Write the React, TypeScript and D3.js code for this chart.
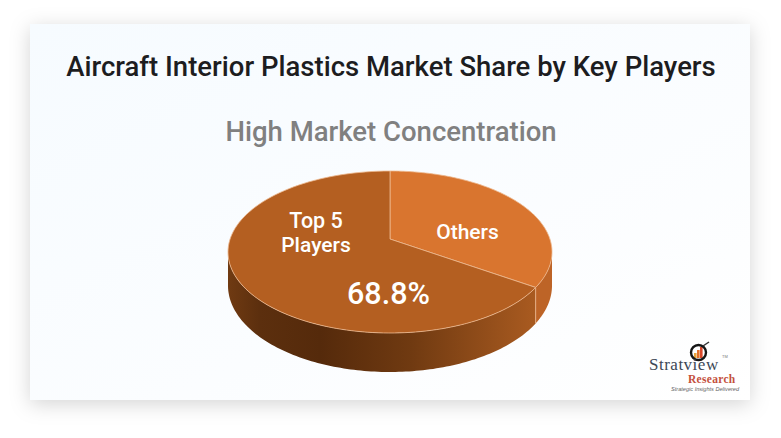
import React from "react";
import * as d3 from "d3";

const title = "Aircraft Interior Plastics Market Share by Key Players";
const subtitle = "High Market Concentration";
const categories = ["Others", "Top 5 Players"];
const shares = [31.2, 68.8];
const shareLabel = "68.8%";
const sliceColors = ["#d9752f", "#b45f21"];
const wallColors = ["#bd6427", "url(#wall)"];

const W = 781, H = 438;
const cx = 390, apexY = 239, backY = 171, frontY = 333, halfW = 162, depth = 39;
const k = (frontY - apexY - (apexY - backY)) / (frontY - backY);
const A = (frontY - apexY) * (1 - k);
const B = halfW * Math.sqrt(1 - k * k);
const warp = 0.22;

// angle clockwise from the back of the disc, projected in perspective
function project(a: number): [number, number] {
  const t = a + warp * Math.sin(a);
  const u = Math.sin(t), v = -Math.cos(t);
  const d = 1 - k * v;
  return [cx + (B * u) / d, apexY + (A * v) / d];
}

const arcs = d3.pie<number>().sort(null)(shares);
const line = d3.line();
const samples = (a0: number, a1: number) =>
  d3.range(0, 121).map((i) => a0 + ((a1 - a0) * i) / 120);

function topPath(a0: number, a1: number) {
  return line([[cx, apexY], ...samples(a0, a1).map(project)]) + "Z";
}
// wall height shrinks toward the far sides of the disc
function lowered([x, y]: [number, number]): [number, number] {
  const f = (y - backY) / (frontY - backY);
  return [x, y + depth * (0.72 + 0.28 * f)];
}
function wallPath(a0: number, a1: number) {
  const s = samples(a0, a1).map(project);
  return line([...s, ...s.map(lowered).reverse()]) + "Z";
}
// widest points of the outline bound the visible wall
const allAngles = samples(0, 2 * Math.PI);
const rightA = allAngles[d3.greatestIndex(allAngles, (a) => project(a)[0])];
const leftA = allAngles[d3.leastIndex(allAngles, (a) => project(a)[0])];
const splitA = arcs[0].endAngle;

const barHeights = [5, 8, 11];
const barColors = ["#e8a33c", "#e3702a", "#d9482a"];

export default function App() {
  const top = project(splitA);
  const bottom = lowered(top);
  return (
    <svg width={W} height={H} style={{ position: "absolute", left: 0, top: 0, background: "#fff" }}>
      <defs>
        <linearGradient id="card" x1="0" y1="0" x2="1" y2="1">
          <stop offset="0" stopColor="#f6fbff" />
          <stop offset="0.6" stopColor="#fbfdff" />
          <stop offset="1" stopColor="#ffffff" />
        </linearGradient>
        <linearGradient id="wall" gradientUnits="userSpaceOnUse" x1="229" x2="533" y1="0" y2="0">
          <stop offset="0" stopColor="#6f3a12" />
          <stop offset="0.1" stopColor="#5c2f0e" />
          <stop offset="0.3" stopColor="#552a0b" />
          <stop offset="0.6" stopColor="#703a11" />
          <stop offset="1" stopColor="#a85a20" />
        </linearGradient>
        <filter id="sh" x="-10%" y="-10%" width="120%" height="125%">
          <feDropShadow dx="0" dy="4" stdDeviation="10" floodColor="#000" floodOpacity="0.17" />
        </filter>
      </defs>
      <rect x={30} y={24} width={720} height={376} fill="url(#card)" filter="url(#sh)" />
      <text x={391} y={76} textAnchor="middle" fontFamily="Roboto" fontWeight={500} fontSize={27.5} fill="#1d1d1f">{title}</text>
      <text x={391} y={141} textAnchor="middle" fontFamily="Roboto" fontWeight={500} fontSize={27.5} fill="#808080">{subtitle}</text>

      <path d={wallPath(leftA, splitA)} fill={wallColors[1]} />
      <path d={wallPath(splitA, rightA)} fill={wallColors[0]} />
      <line x1={top[0]} y1={top[1]} x2={bottom[0]} y2={bottom[1]} stroke="#eeb98f" strokeWidth={0.8} />
      {arcs.map((d, i) => (
        <path key={categories[i]} d={topPath(d.startAngle, d.endAngle)} fill={sliceColors[i]} stroke="#eeb98f" strokeWidth={0.8} strokeLinejoin="round" />
      ))}

      <g fontFamily="Roboto" fontWeight={500} fill="#fff" textAnchor="middle">
        <text x={316} y={228} fontSize={21.5}>Top 5</text>
        <text x={316} y={252} fontSize={21}>Players</text>
        <text x={467.5} y={239} fontSize={21}>{categories[0]}</text>
        <text x={388.5} y={304} fontSize={30.5}>{shareLabel}</text>
      </g>

      <g>
        {barHeights.map((h, i) => (
          <rect key={i} x={694 + i * 3} y={358 - h} width={2.6} height={h} fill={barColors[i]} />
        ))}
        <circle cx={698.5} cy={352.5} r={7.5} fill="none" stroke="#151515" strokeWidth={2.4} />
        <line x1={703} y1={346} x2={709} y2={342} stroke="#333" strokeWidth={1.5} />
        <text x={649} y={370} fontFamily="Liberation Serif" fontSize={17} letterSpacing={0.5} fill="#3c4756">Stratview</text>
        <text x={722} y={358} fontFamily="Liberation Sans" fontSize={4} fill="#777">TM</text>
        <text x={688} y={383} fontFamily="Liberation Serif" fontWeight={700} fontSize={11.5} letterSpacing={0.3} fill="#c4503c">Research</text>
        <text x={671} y={391} fontFamily="Liberation Sans" fontStyle="italic" fontSize={5.6} fill="#666">Strategic Insights Delivered</text>
      </g>
    </svg>
  );
}
